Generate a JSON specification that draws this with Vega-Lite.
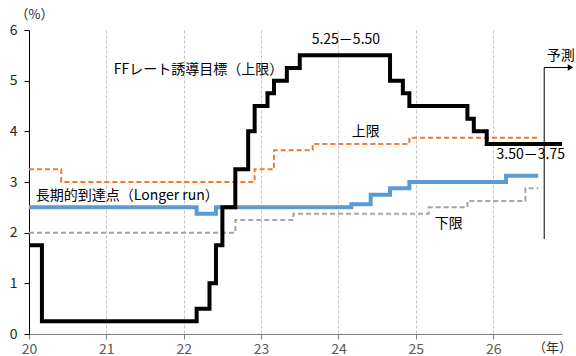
{
  "$schema": "https://vega.github.io/schema/vega-lite/v6.json",
  "width": 533,
  "height": 304,
  "autosize": {"type": "none"},
  "padding": {"left": 29, "top": 30, "right": 14, "bottom": 22},
  "config": {"view": {"stroke": null}, "font": "Noto Sans CJK JP"},
  "datasets": {
    "series": [
      {"series": "lower", "year": 20.0, "rate": 2.0},
      {"series": "lower", "year": 22.667, "rate": 2.25},
      {"series": "lower", "year": 23.417, "rate": 2.375},
      {"series": "lower", "year": 25.167, "rate": 2.5},
      {"series": "lower", "year": 25.667, "rate": 2.625},
      {"series": "lower", "year": 26.417, "rate": 2.875},
      {"series": "lower", "year": 26.583, "rate": 2.875},
      {"series": "upper", "year": 20.0, "rate": 3.25},
      {"series": "upper", "year": 20.417, "rate": 3.0},
      {"series": "upper", "year": 22.917, "rate": 3.25},
      {"series": "upper", "year": 23.167, "rate": 3.625},
      {"series": "upper", "year": 23.667, "rate": 3.75},
      {"series": "upper", "year": 24.917, "rate": 3.875},
      {"series": "upper", "year": 26.583, "rate": 3.875},
      {"series": "longrun", "year": 20.0, "rate": 2.5},
      {"series": "longrun", "year": 22.167, "rate": 2.375},
      {"series": "longrun", "year": 22.417, "rate": 2.5},
      {"series": "longrun", "year": 24.167, "rate": 2.5625},
      {"series": "longrun", "year": 24.417, "rate": 2.75},
      {"series": "longrun", "year": 24.667, "rate": 2.875},
      {"series": "longrun", "year": 24.917, "rate": 3.0},
      {"series": "longrun", "year": 26.167, "rate": 3.125},
      {"series": "longrun", "year": 26.583, "rate": 3.125},
      {"series": "ff", "year": 20.0, "rate": 1.75},
      {"series": "ff", "year": 20.167, "rate": 0.25},
      {"series": "ff", "year": 22.167, "rate": 0.5},
      {"series": "ff", "year": 22.333, "rate": 1.0},
      {"series": "ff", "year": 22.417, "rate": 1.75},
      {"series": "ff", "year": 22.5, "rate": 2.5},
      {"series": "ff", "year": 22.667, "rate": 3.25},
      {"series": "ff", "year": 22.833, "rate": 4.0},
      {"series": "ff", "year": 22.917, "rate": 4.5},
      {"series": "ff", "year": 23.083, "rate": 4.75},
      {"series": "ff", "year": 23.167, "rate": 5.0},
      {"series": "ff", "year": 23.333, "rate": 5.25},
      {"series": "ff", "year": 23.5, "rate": 5.5},
      {"series": "ff", "year": 24.667, "rate": 5.0},
      {"series": "ff", "year": 24.833, "rate": 4.75},
      {"series": "ff", "year": 24.917, "rate": 4.5},
      {"series": "ff", "year": 25.667, "rate": 4.25},
      {"series": "ff", "year": 25.75, "rate": 4.0},
      {"series": "ff", "year": 25.917, "rate": 3.75},
      {"series": "ff", "year": 26.89, "rate": 3.75}
    ],
    "labels": [
      {"year": 22.19, "rate": 5.21, "label": "FFレート誘導目標（上限）"},
      {"year": 24.096, "rate": 5.8, "label": "5.25－5.50"},
      {"year": 24.354, "rate": 3.99, "label": "上限"},
      {"year": 21.27, "rate": 2.72, "label": "長期的到達点（Longer run）"},
      {"year": 25.426, "rate": 2.17, "label": "下限"},
      {"year": 26.486, "rate": 3.53, "label": "3.50－3.75"},
      {"year": 26.873, "rate": 5.49, "label": "予測"}
    ],
    "arrowV": [{"year": 26.66, "rate": 1.875, "rate2": 5.26}],
    "arrowH": [{"year": 26.66, "year2": 26.99, "rate": 5.26}],
    "arrowHead": [{"year": 27.0, "rate": 5.26}]
  },
  "encoding": {
    "x": {
      "field": "year",
      "type": "quantitative",
      "scale": {"domain": [20, 26.89], "nice": false, "zero": false},
      "axis": {
        "values": [20, 21, 22, 23, 24, 25, 26],
        "format": "d",
        "labelFlush": false,
        "grid": true,
        "gridColor": "#c4c4c4",
        "gridDash": [3, 2],
        "gridWidth": 1,
        "domainColor": "#808080",
        "tickColor": "#808080",
        "tickSize": 5,
        "labelFontSize": 14,
        "labelColor": "#595959",
        "labelPadding": 3,
        "title": "（年）",
        "titleX": 523,
        "titleY": 13,
        "titleAlign": "center",
        "titleBaseline": "middle",
        "titleFontSize": 13,
        "titleFontWeight": "normal",
        "titleColor": "#333333"
      }
    },
    "y": {
      "field": "rate",
      "type": "quantitative",
      "scale": {"domain": [0, 6], "nice": false},
      "axis": {
        "values": [0, 1, 2, 3, 4, 5, 6],
        "grid": false,
        "domainColor": "#000000",
        "tickColor": "#000000",
        "tickSize": 5,
        "labelFontSize": 14,
        "labelColor": "#262626",
        "labelPadding": 7,
        "title": "（%）",
        "titleAngle": 0,
        "titleX": 5,
        "titleY": -16,
        "titleAlign": "center",
        "titleBaseline": "middle",
        "titleFontSize": 13,
        "titleFontWeight": "normal",
        "titleColor": "#262626"
      }
    }
  },
  "layer": [
    {
      "data": {"name": "series"},
      "transform": [{"filter": "datum.series === 'lower'"}],
      "mark": {"type": "line", "interpolate": "step-after", "color": "#A5A5A5", "strokeWidth": 2, "strokeDash": [5, 3]}
    },
    {
      "data": {"name": "series"},
      "transform": [{"filter": "datum.series === 'upper'"}],
      "mark": {"type": "line", "interpolate": "step-after", "color": "#ED7D31", "strokeWidth": 2, "strokeDash": [5, 3]}
    },
    {
      "data": {"name": "series"},
      "transform": [{"filter": "datum.series === 'longrun'"}],
      "mark": {"type": "line", "interpolate": "step-after", "color": "#5B9BD5", "strokeWidth": 4}
    },
    {
      "data": {"name": "series"},
      "transform": [{"filter": "datum.series === 'ff'"}],
      "mark": {"type": "line", "interpolate": "step-after", "color": "#000000", "strokeWidth": 4}
    },
    {
      "data": {"name": "arrowV"},
      "mark": {"type": "rule", "color": "#000000", "strokeWidth": 1},
      "encoding": {"y2": {"field": "rate2"}}
    },
    {
      "data": {"name": "arrowH"},
      "mark": {"type": "rule", "color": "#000000", "strokeWidth": 1},
      "encoding": {"x2": {"field": "year2"}}
    },
    {
      "data": {"name": "arrowHead"},
      "mark": {"type": "point", "shape": "triangle-right", "filled": true, "color": "#000000", "opacity": 1, "size": 40}
    },
    {
      "data": {"name": "labels"},
      "mark": {"type": "text", "fontSize": 14, "color": "#000000", "align": "center", "baseline": "middle"},
      "encoding": {"text": {"field": "label"}}
    }
  ]
}
